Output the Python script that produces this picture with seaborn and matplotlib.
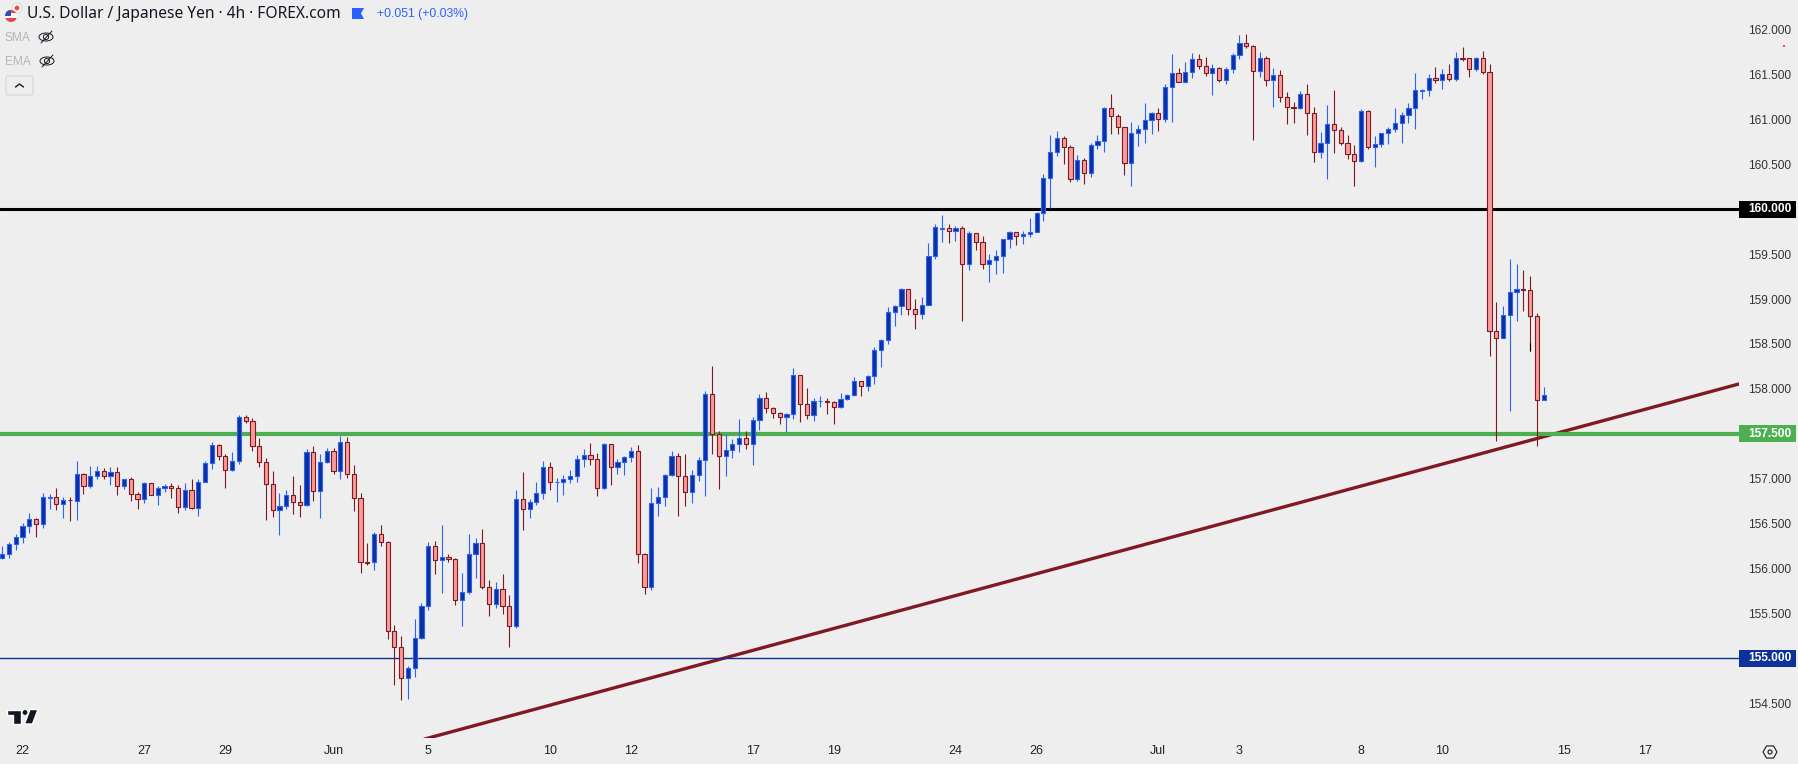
import numpy as np
import pandas as pd
import matplotlib
matplotlib.use("Agg")
import matplotlib.pyplot as plt
from matplotlib.patches import Rectangle, Circle, Polygon, Ellipse, FancyBboxPatch, RegularPolygon
import seaborn as sns

# USD/JPY 4h candles
opens = [156.120,156.157,156.269,156.347,156.469,156.547,156.491,156.790,156.792,156.714,
156.765,156.748,157.048,156.915,157.026,157.082,157.026,157.070,156.915,156.993,
156.826,156.770,156.948,156.814,156.892,156.915,156.892,156.681,156.870,156.670,
156.959,157.171,157.371,157.249,157.093,157.193,157.683,157.638,157.360,157.182,
156.937,156.647,156.692,156.814,156.736,156.703,157.293,156.859,157.182,157.304,
157.082,157.405,157.048,156.781,156.070,156.068,156.380,156.291,155.300,155.122,
154.777,154.888,155.222,155.579,156.247,156.091,156.124,156.102,155.646,155.735,
156.158,156.280,155.790,155.601,155.768,155.579,155.356,156.770,156.659,156.737,
156.837,157.127,156.960,156.967,156.993,157.027,157.216,157.260,157.216,156.893,
157.383,157.127,157.182,157.238,157.305,156.158,155.790,156.726,156.793,157.038,
157.249,157.027,156.848,157.038,157.205,157.940,157.494,157.249,157.316,157.383,
157.450,157.383,157.650,157.895,157.784,157.728,157.684,157.717,158.151,157.828,
157.706,157.862,157.870,157.851,157.795,157.884,157.928,158.084,158.029,158.140,
158.429,158.541,158.853,158.919,159.109,158.886,158.830,158.931,159.476,159.785,
159.788,159.755,159.788,159.387,159.732,159.632,159.387,159.432,159.476,159.666,
159.743,159.699,159.721,159.743,159.955,160.345,160.634,160.790,160.690,160.334,
160.545,160.400,160.712,160.757,161.124,161.035,160.913,160.512,160.846,160.890,
160.991,161.069,161.002,161.358,161.514,161.414,161.525,161.670,161.592,161.514,
161.570,161.436,161.559,161.715,161.848,161.815,161.536,161.681,161.436,161.492,
161.247,161.135,161.131,161.280,161.069,160.634,160.735,160.946,160.879,160.735,
160.612,160.534,161.091,160.690,160.723,160.846,160.890,160.957,161.046,161.124,
161.322,161.325,161.458,161.436,161.503,161.447,161.683,161.681,161.559,161.681,
161.525,158.641,158.563,158.819,159.075,159.109,159.098,158.808,157.873]

closes = [156.157,156.269,156.347,156.469,156.547,156.491,156.792,156.795,156.714,156.759,
156.760,157.048,156.915,157.026,157.082,157.026,157.070,156.915,156.993,156.826,
156.770,156.948,156.814,156.892,156.915,156.892,156.681,156.870,156.670,156.959,
157.171,157.371,157.249,157.093,157.193,157.683,157.638,157.360,157.182,156.937,
156.647,156.692,156.814,156.736,156.703,157.293,156.859,157.182,157.304,157.082,
157.405,157.048,156.781,156.068,156.066,156.380,156.291,155.300,155.122,154.777,
154.888,155.222,155.579,156.247,156.091,156.124,156.102,155.646,155.735,156.158,
156.280,155.790,155.601,155.768,155.579,155.356,156.770,156.659,156.737,156.837,
157.127,156.960,156.967,156.993,157.027,157.216,157.260,157.216,156.893,157.383,
157.127,157.182,157.238,157.305,156.158,155.790,156.726,156.793,157.038,157.249,
157.027,156.848,157.038,157.205,157.940,157.494,157.249,157.316,157.383,157.450,
157.383,157.650,157.895,157.784,157.728,157.684,157.717,158.151,157.828,157.706,
157.862,157.870,157.851,157.795,157.884,157.928,158.084,158.029,158.140,158.429,
158.541,158.853,158.919,159.109,158.886,158.830,158.931,159.476,159.799,159.792,
159.755,159.788,159.387,159.732,159.632,159.387,159.432,159.476,159.666,159.743,
159.699,159.721,159.743,159.955,160.345,160.634,160.790,160.690,160.334,160.545,
160.400,160.712,160.757,161.124,161.035,160.913,160.512,160.846,160.890,160.991,
161.069,161.002,161.358,161.514,161.414,161.525,161.670,161.592,161.514,161.570,
161.436,161.559,161.715,161.848,161.815,161.536,161.681,161.436,161.492,161.247,
161.135,161.131,161.280,161.069,160.634,160.735,160.946,160.879,160.735,160.612,
160.534,161.091,160.690,160.723,160.846,160.890,160.957,161.046,161.124,161.325,
161.327,161.458,161.436,161.503,161.447,161.681,161.679,161.559,161.681,161.525,
158.641,158.563,158.819,159.075,159.109,159.105,158.808,157.873,157.928]

highs = [156.254,156.295,156.380,156.506,156.618,156.558,156.837,156.825,156.896,156.792,
156.792,157.197,157.063,157.141,157.141,157.115,157.130,157.130,156.993,157.015,
156.848,156.963,156.948,156.915,156.941,156.948,156.926,156.952,156.993,156.993,
157.193,157.405,157.382,157.271,157.297,157.709,157.705,157.672,157.453,157.230,
157.085,156.840,156.874,157.030,156.929,157.327,157.360,157.271,157.338,157.338,
157.475,157.464,157.148,156.837,156.280,156.402,156.480,156.303,155.367,155.248,
154.914,155.434,155.612,156.292,156.303,156.481,156.158,156.113,155.946,156.384,
156.340,156.440,155.868,155.846,155.935,155.701,156.871,157.071,156.770,156.960,
157.194,157.182,157.004,157.038,157.093,157.260,157.327,157.394,157.283,157.394,
157.383,157.216,157.249,157.349,157.372,156.169,156.893,156.904,157.049,157.305,
157.283,157.271,157.093,157.238,157.973,158.251,157.528,157.494,157.439,157.661,
157.528,157.684,157.940,157.962,157.795,157.739,157.728,158.229,158.151,158.006,
157.895,157.917,157.895,157.861,157.951,157.939,158.129,158.084,158.151,158.463,
158.552,158.908,158.931,159.120,159.109,158.997,159.020,159.621,159.833,159.933,
159.833,159.810,159.810,159.755,159.732,159.699,159.498,159.543,159.666,159.755,
159.743,159.755,159.899,159.966,160.389,160.824,160.868,160.813,160.712,160.601,
160.568,160.735,160.824,161.135,161.280,161.058,160.913,160.968,160.935,161.180,
161.080,161.124,161.392,161.726,161.570,161.637,161.737,161.726,161.692,161.614,
161.581,161.581,161.737,161.941,161.948,161.826,161.748,161.703,161.570,161.547,
161.302,161.191,161.314,161.392,161.135,160.857,161.158,161.325,160.913,160.824,
160.712,161.113,161.102,160.813,160.846,160.913,161.124,161.080,161.180,161.514,
161.336,161.503,161.581,161.559,161.614,161.748,161.804,161.681,161.692,161.759,
161.614,158.964,158.919,159.443,159.387,159.320,159.253,158.841,158.017]

lows = [156.105,156.120,156.206,156.284,156.395,156.350,156.451,156.662,156.651,156.562,
156.529,156.540,156.829,156.896,156.996,156.996,156.929,156.818,156.885,156.751,
156.662,156.729,156.814,156.707,156.851,156.785,156.618,156.651,156.662,156.584,
156.959,157.108,157.208,156.896,157.089,157.163,157.620,157.308,157.130,156.540,
156.573,156.373,156.662,156.606,156.573,156.696,156.751,156.562,157.171,157.052,
156.996,157.007,156.640,155.949,156.039,155.983,156.250,155.215,154.703,154.536,
154.547,154.792,155.215,155.538,155.939,155.727,156.076,155.594,155.360,155.716,
155.894,155.776,155.471,155.560,155.493,155.126,155.338,156.429,156.563,156.707,
156.774,156.874,156.741,156.819,156.952,156.963,157.130,157.153,156.808,156.885,
156.930,157.052,157.041,157.186,156.061,155.716,155.761,156.585,156.696,157.030,
156.585,156.696,156.730,156.975,156.808,157.275,156.885,157.030,157.231,157.297,
157.331,157.153,157.542,157.732,157.676,157.609,157.520,157.665,157.632,157.665,
157.643,157.799,157.721,157.609,157.787,157.873,157.921,157.921,157.977,158.055,
158.244,158.500,158.700,158.823,158.823,158.667,158.778,158.931,159.447,159.636,
159.625,159.647,158.756,159.324,159.547,159.335,159.190,159.279,159.291,159.569,
159.602,159.614,159.692,159.743,159.870,160.011,160.594,160.504,160.304,160.311,
160.282,160.360,160.671,160.638,160.838,160.838,160.382,160.259,160.705,160.738,
160.838,160.872,160.972,160.972,161.414,161.414,161.462,161.562,161.484,161.273,
161.418,161.395,161.518,161.674,161.796,160.772,161.473,161.373,161.135,161.195,
160.950,160.961,161.117,160.827,160.527,160.571,160.337,160.627,160.716,160.560,
160.259,160.527,160.671,160.471,160.694,160.727,160.861,160.738,160.961,160.894,
161.228,161.262,161.406,161.340,161.429,161.429,161.655,161.473,161.540,161.507,
158.366,157.420,158.563,157.754,158.760,158.867,158.418,157.364,157.873]

x_ticks = [3, 21, 33, 49, 63, 81, 93, 111, 123, 141, 153, 171, 183, 201, 213, 231, 243]
x_labels = ["22", "27", "29", "Jun", "5", "10", "12", "17", "19", "24", "26", "Jul", "3", "8", "10", "15", "17"]
y_ticks = [154.5, 155.5, 156.0, 156.5, 157.0, 158.0, 158.5, 159.0, 159.5, 160.5, 161.0, 161.5, 162.0]

levels = [160.0, 157.5, 155.0]
level_colors = ["#000000", "#4caf50", "#0c3299"]
level_widths = [2.2, 3.0, 1.0]

trend_x = [62.45, 256.9]
trend_y = [154.10, 158.055]

BG = "#eeeeee"
FONT = "Liberation Sans"

sns.set_theme(style="white", rc={"axes.facecolor": BG, "figure.facecolor": BG})
plt.rcParams["font.family"] = [FONT, "DejaVu Sans"]

df = pd.DataFrame({"o": opens, "h": highs, "l": lows, "c": closes})
df["i"] = df.index
up = df[df["c"] >= df["o"]]
down = df[df["c"] < df["o"]]

fig = plt.figure(figsize=(17.99, 7.64), dpi=100)
ax = fig.add_axes([0, 26 / 764, 1739 / 1799, 738 / 764])
ax.set_xlim(-0.34, 256.9)
ax.set_ylim(154.112, 162.331)

# level lines and trend line go under the candles
sns.lineplot(x=trend_x, y=trend_y, color="#801922", linewidth=2.4, ax=ax, zorder=2, estimator=None)
for lev, col, lw in zip(levels, level_colors, level_widths):
    sns.lineplot(x=[-0.34, 256.9], y=[lev, lev], color=col, linewidth=lw, ax=ax, zorder=2.1, estimator=None)

for part, edge, fill in [(up, "#2962ff", "#0d3199"), (down, "#801922", "#f99b9b")]:
    ax.vlines(part["i"], part["l"], part["h"], color=edge, linewidth=0.8, zorder=3)
    ax.bar(part["i"], (part["c"] - part["o"]).abs(), bottom=part[["o", "c"]].min(axis=1),
           width=0.62, color=fill, edgecolor=edge, linewidth=0.8, zorder=4)

# small black piece at the bottom of one wick
ax.vlines([226], [158.418], [158.51], color="#000000", linewidth=0.8, zorder=5)

ax.yaxis.tick_right()
ax.set_yticks(y_ticks)
ax.set_yticklabels(["%.3f" % v for v in y_ticks], fontsize=8.6, color="#333333")
ax.set_xticks(x_ticks)
ax.set_xticklabels(x_labels, fontsize=9, color="#222222")
ax.tick_params(axis="both", length=0)
ax.tick_params(axis="y", pad=6.5)
ax.tick_params(axis="x", pad=5.3)
for s in ax.spines.values():
    s.set_visible(False)
ax.set_xlabel("")
ax.set_ylabel("")

# price tags for the levels
tr = ax.get_yaxis_transform()
tag_h = 17 / 89.8
for lev, col in zip(levels, level_colors):
    ax.add_patch(Rectangle((1.0, lev - tag_h / 2), 57 / 1739, tag_h, transform=tr, color=col,
                           clip_on=False, linewidth=0, zorder=6))
    ax.text(1.0 + 9 / 1739, lev, "%.3f" % lev, transform=tr, color="white", fontsize=8.6,
            fontweight="bold", va="center", ha="left", zorder=7, clip_on=False)

# header and toolbar bits, placed in figure pixels
ov = fig.add_axes([0, 0, 1, 1], facecolor="none")
ov.set_xlim(0, 1799)
ov.set_ylim(764, 0)
ov.axis("off")

ov.text(27, 14, "U.S. Dollar / Japanese Yen · 4h · FOREX.com", fontsize=11.2, color="#131722", va="center",
        family=["Noto Sans", "DejaVu Sans"])
ov.text(377, 14, "+0.051 (+0.03%)", fontsize=8.7, color="#2962ff", va="center")
ov.text(5, 38, "SMA", fontsize=8.6, color="#b2b5be", va="center")
ov.text(5, 62, "EMA", fontsize=8.6, color="#b2b5be", va="center")

# flag icon, round like the original
ov.add_patch(Circle((17, 8), 5, facecolor="#f7f7f7", edgecolor="#d8d8d8", linewidth=0.6))
ov.add_patch(Circle((17, 8), 2.4, facecolor="#ef4a4a", linewidth=0))
disc = Circle((11, 16), 6, facecolor="#f7f7f7", linewidth=0)
ov.add_patch(disc)
for rect in [Rectangle((4, 18), 14, 4, facecolor="#e84545", linewidth=0),
             Rectangle((4, 10), 14, 3, facecolor="#e84545", linewidth=0),
             Rectangle((4, 10), 7, 6, facecolor="#2f4fa8", linewidth=0)]:
    ov.add_patch(rect)
    rect.set_clip_path(disc)

# flag marker next to the change text
ov.add_patch(Polygon([(352, 8), (364, 8), (361, 13.5), (364, 19), (352, 19)], facecolor="#2962ff", linewidth=0))

# hidden indicator eyes
for ex, ey in [(46, 37), (47, 61)]:
    ov.add_patch(Ellipse((ex, ey), 14, 8, facecolor="none", edgecolor="#131722", linewidth=0.7))
    ov.add_patch(Circle((ex, ey), 2.6, facecolor="none", edgecolor="#131722", linewidth=0.7))
    ov.plot([ex - 5, ex + 6], [ey + 6, ey - 6], color="#131722", linewidth=0.7)

# collapse button
ov.add_patch(FancyBboxPatch((6, 76), 27, 19, boxstyle="round,pad=0,rounding_size=2", facecolor="none",
                            edgecolor="#d1d4dc", linewidth=0.8))
ov.plot([15.5, 19.5, 23.5], [87, 84, 87], color="#131722", linewidth=1.0)

# TradingView mark
for poly in [[(7.5, 709.5), (21, 709.5), (21, 724), (13.5, 724), (13.5, 715), (7.5, 715)],
             [(30, 709.5), (38, 709.5), (32.5, 724), (24.5, 724)]]:
    ov.add_patch(Polygon(poly, facecolor="#131722", edgecolor="white", linewidth=1.0, zorder=8))
ov.add_patch(Circle((25, 712.5), 2.8, facecolor="#131722", edgecolor="white", linewidth=0.5, zorder=8))

# settings hexagon and the red dot
ov.add_patch(RegularPolygon((1770, 752), 6, radius=7, orientation=np.pi / 6, facecolor="none",
                            edgecolor="#131722", linewidth=0.8))
ov.add_patch(Circle((1770, 752), 2, facecolor="none", edgecolor="#131722", linewidth=0.8))
ov.add_patch(Circle((1784, 46), 1, facecolor="#ff1a1a", linewidth=0))

fig.savefig("out.png", dpi=100, facecolor=BG)
